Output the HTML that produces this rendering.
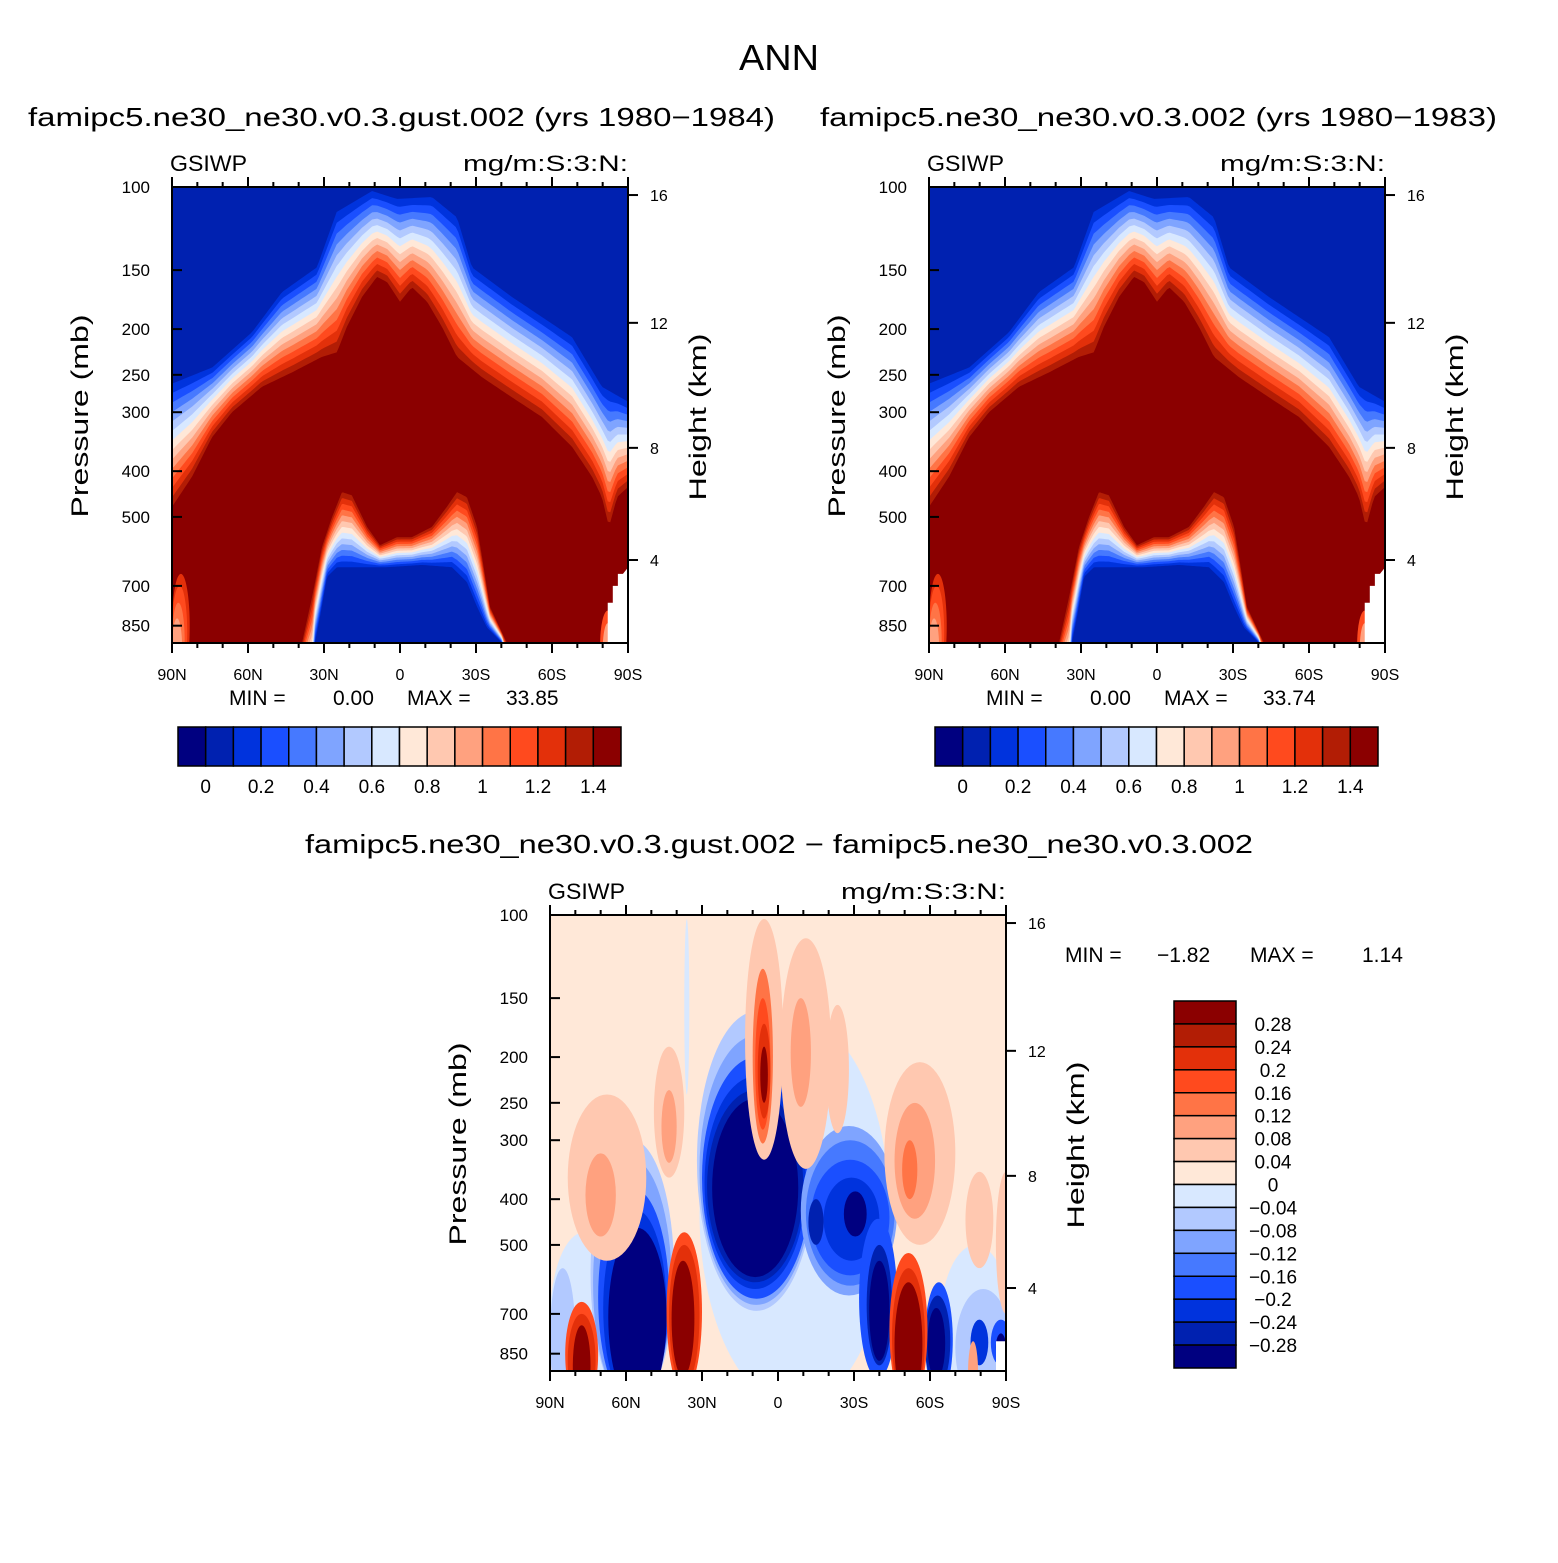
<!DOCTYPE html>
<html><head><meta charset="utf-8"><style>
body{margin:0;background:#fff}
svg text{font-family:"Liberation Sans",sans-serif;fill:#000}
</style></head><body>
<svg id="fig" width="1558" height="1558" viewBox="0 0 1558 1558" xmlns="http://www.w3.org/2000/svg">
<text x="779" y="70" font-size="36" text-anchor="middle" textLength="80" lengthAdjust="spacingAndGlyphs">ANN</text>
<text x="28" y="126" font-size="26" textLength="747" lengthAdjust="spacingAndGlyphs">famipc5.ne30_ne30.v0.3.gust.002 (yrs 1980−1984)</text>
<text x="820" y="126" font-size="26" textLength="677" lengthAdjust="spacingAndGlyphs">famipc5.ne30_ne30.v0.3.002 (yrs 1980−1983)</text>
<text x="305" y="853" font-size="26" textLength="948" lengthAdjust="spacingAndGlyphs">famipc5.ne30_ne30.v0.3.gust.002 − famipc5.ne30_ne30.v0.3.002</text>
<g id="layer"></g>
</svg>
<script>
// ---- data ----
const colors=["#000080","#0021b0","#0033dd","#1a4fff","#4679ff","#7fa4ff","#b2c9ff","#d8e8ff","#ffe8d8","#ffc8b0","#ffa17f","#ff7446","#ff4a1e","#e3300a","#b21d05","#8b0000"];
const topLevels=["0","0.2","0.4","0.6","0.8","1","1.2","1.4"];
const diffLevels=["0.28","0.24","0.2","0.16","0.12","0.08","0.04","0","−0.04","−0.08","−0.12","−0.16","−0.2","−0.24","−0.28"];
const pTicks=[100,150,200,250,300,400,500,700,850];
const hTicks=[16,12,8,4];
const hTickP=[104,194,357,617];
const latTicks=["90N","60N","30N","0","30S","60S","90S"];
// cloud top: outer edge (first non-background band) and dark-red edge
const outerLat=[90,74,58.4,46.6,32.8,25,11,1.2,-12.6,-22.5,-28.4,-44.2,-67.9,-79.7,-90];
const outerP=[261,241,203,167,148,113,102,106,105,116,148,171,208,265,285];
const redLat=[90,82.1,74.2,66.3,54.5,42.6,30.8,24.9,21,15,9.1,5.1,0,-4.7,-10.7,-16.6,-22.5,-32.4,-44.2,-56,-67.9,-75.8,-79.7,-82.5,-85.7,-90];
const redP=[476,411,339,300,265,247,229,224,198,171,155,159,175,163,175,198,229,253,279,307,355,411,454,525,454,432];
// lower tropical hole
const holeOutLat=[40.7,38.7,34.7,30.8,26.8,22.9,19,13,7.9,1.2,-4.7,-12.6,-18.5,-22.5,-26.4,-30.4,-32.4,-35.5,-42.2,-44.2];
const holeOutP=[1200,925,739,579,500,443,450,525,574,552,552,525,476,443,454,525,608,775,925,1200];
const holeInLat=[40.7,34.7,33.6,31.6,28.8,24.9,5.1,-8.7,-20.5,-26.4,-30.4,-34.3,-40.3,-44.2];
const holeInP=[1200,1200,925,815,670,639,639,632,639,687,775,857,925,1200];
// extra blobs in top panels [lat1,lat2,pTop,pBot,colorIdx]
const topBlobs=[[90,83,660,1100,13],[90,84,700,1100,12],[90,85,760,1100,11],[90,86,820,1100,10],[-79,-85,790,1100,12],[-80,-84,840,1100,10]];
const topMin=["0.00","0.00"], topMax=["33.85","33.74"];
// difference field blobs [lat1,lat2,pTop,pBot,colorIdx]
const diffBlobs=[
[31,-44,165,1100,7],[90,63,470,1100,7],[90,80,560,1100,6],[-64,-92,500,1100,7],[-70,-92,620,1100,6],
[37,35,102,240,7],
[74,41,300,1100,6],[73,42,330,1100,5],[71,43,380,1100,3],[69,44,420,1100,2],[67,44,460,1100,0],
[32,-15,160,690,6],[31,-14,180,670,5],[30,-13,200,650,3],[29,-11,220,620,2],[28,-10,235,600,1],[26,-8,245,585,0],
[-9,-47,280,640,5],[-11,-46,300,610,4],[-13,-44,330,580,3],[-18,-40,360,540,2],[-26,-35,385,480,0],[-12,-18,400,500,1],
[-32,-47,440,960,3],[-35,-45,500,900,1],[-36,-44,540,880,0],
[-58,-69,600,1050,3],[-58,-68,640,1000,1],[-59,-66,680,960,0],[-76,-83,720,900,2],[-84,-92,720,900,3],[-86,-90,770,880,0],
[83,52,240,540,9],[76,64,320,480,10],[49,37,190,360,9],[46,40,235,335,10],[63,58,270,370,9],
[13,-2,102,330,9],[10,2,130,305,11],[9,3,150,285,12],[8,3,170,270,13],[7,4,190,250,15],
[-1,-21,112,345,9],[-5,-13,150,255,10],[-19,-28,155,290,9],
[-42,-70,205,500,9],[-46,-62,250,440,10],[-49,-55,300,400,11],[-74,-85,350,560,9],[-86,-94,350,700,9],
[44,30,470,1020,12],[43,31,500,990,13],[42,33,540,950,15],
[84,71,660,1100,12],[83,72,700,1100,13],[81,74,740,1100,15],
[-44,-59,520,1100,12],[-45,-58,560,1100,13],[-46,-57,600,1100,15],[-75,-79,800,1100,10]];
const diffMin="−1.82", diffMax="1.14";
// ---- drawing ----
const NS="http://www.w3.org/2000/svg";
const layer=document.getElementById('layer');
function mk(tag,attrs,parent){const e=document.createElementNS(NS,tag);for(const k in attrs)e.setAttribute(k,attrs[k]);(parent||layer).appendChild(e);return e;}
const W=456,H=456;
function xL(ox,lat){return ox+(90-lat)/180*W;}
function yP(oy,p){return oy+472*Math.log10(p/100);}
function interp(la,pa,lat){
  if(lat>=la[0])return Math.log10(pa[0]);
  for(let i=0;i<la.length-1;i++){if(lat<=la[i]&&lat>=la[i+1]){const t=(la[i]-lat)/(la[i]-la[i+1]);return Math.log10(pa[i])*(1-t)+Math.log10(pa[i+1])*t;}}
  return Math.log10(pa[pa.length-1]);
}
let clipN=0;
function blob(g,ox,oy,b){
  const x1=xL(ox,b[0]),x2=xL(ox,b[1]),y1=yP(oy,b[2]),y2=yP(oy,b[3]);
  const e=mk('ellipse',{cx:(x1+x2)/2,cy:(y1+y2)/2,rx:Math.abs(x2-x1)/2,ry:Math.abs(y2-y1)/2,fill:colors[b[4]]},g);
  
  
}
function axes(ox,oy,name){
  const g=mk('g',{});
  
  
  mk('rect',{x:ox,y:oy,width:W,height:H,fill:'none',stroke:'#000','stroke-width':2},g);
  pTicks.forEach(p=>{const y=yP(oy,p);mk('line',{x1:ox,y1:y,x2:ox+10,y2:y,stroke:'#000','stroke-width':2},g);
    const t=mk('text',{x:ox-22,y:y+6,'font-size':17,'text-anchor':'end'},g);t.textContent=p;
    
    });
  hTicks.forEach((h,i)=>{const y=yP(oy,hTickP[i]);mk('line',{x1:ox+W,y1:y,x2:ox+W+10,y2:y,stroke:'#000','stroke-width':2},g);
    const t=mk('text',{x:ox+W+22,y:y+6,'font-size':16},g);t.textContent=h;
    
    });
  for(let d=0;d<=18;d++){const x=ox+d*W/18;const maj=d%3==0;
    mk('line',{x1:x,y1:oy+H,x2:x,y2:oy+H+(maj?10:5),stroke:'#000','stroke-width':2},g);
    mk('line',{x1:x,y1:oy,x2:x,y2:oy-(maj?10:5),stroke:'#000','stroke-width':2},g);
    if(maj){const t=mk('text',{x:x,y:oy+H+37,'font-size':16,'text-anchor':'middle'},g);t.textContent=latTicks[d/3];
      
      }}
  let t=mk('text',{x:ox-2,y:oy-16,'font-size':22,textLength:77,lengthAdjust:'spacingAndGlyphs'},g);t.textContent='GSIWP';
  
  t=mk('text',{x:ox+W-165,y:oy-16,'font-size':22,textLength:165,lengthAdjust:'spacingAndGlyphs'},g);t.textContent='mg/m:S:3:N:';
  
  t=mk('text',{x:0,y:0,'font-size':24,'text-anchor':'middle',textLength:203,lengthAdjust:'spacingAndGlyphs',transform:`translate(${ox-84},${oy+229}) rotate(-90)`},g);t.textContent='Pressure  (mb)';
  
  t=mk('text',{x:0,y:0,'font-size':24,'text-anchor':'middle',textLength:167,lengthAdjust:'spacingAndGlyphs',transform:`translate(${ox+W+78},${oy+230}) rotate(-90)`},g);t.textContent='Height  (km)';
  
}
function clipGroup(ox,oy,name){
  const id='c'+(clipN++);
  const cp=mk('clipPath',{id:id});mk('rect',{x:ox,y:oy,width:W,height:H},cp);
  const g=mk('g',{'clip-path':`url(#${id})`});
  
  
  return g;
}
function topPanel(ox,oy,idx){
  const g=clipGroup(ox,oy,'contour-plot-'+(idx?'right':'left'));
  mk('rect',{x:ox,y:oy,width:W,height:H,fill:colors[1]},g);
  const lats=[];for(let l=90;l>=-90;l-=1)lats.push(l);
  const N=14;
  for(let k=0;k<N;k++){
    const t=Math.pow(k/(N-1),1.0);
    let pts=lats.map(l=>{const lp=interp(outerLat,outerP,l)*(1-t)+interp(redLat,redP,l)*t;return xL(ox,l)+','+yP(oy,Math.pow(10,lp));});
    pts.push(xL(ox,-90)+','+(oy+H+50),xL(ox,90)+','+(oy+H+50));
    const e=mk('polygon',{points:pts.join(' '),fill:colors[k+2]},g);
    
    
  }
  const hl=[];for(let l=42;l>=-46;l-=0.5)hl.push(l);
  for(let j=0;j<N;j++){
    const t=j/(N-1);
    let pts=hl.map(l=>{const lp=interp(holeOutLat,holeOutP,l)*(1-t)+interp(holeInLat,holeInP,l)*t;return xL(ox,l)+','+yP(oy,Math.pow(10,lp));});
    pts.push(xL(ox,-46)+','+(oy+H+80),xL(ox,42)+','+(oy+H+80));
    const e=mk('polygon',{points:pts.join(' '),fill:colors[14-j]},g);
    
    
  }
  topBlobs.forEach(b=>blob(g,ox,oy,b));
  const m=mk('polygon',{points:`${xL(ox,-88)},${yP(oy,660)} ${xL(ox,-86)},${yP(oy,660)} ${xL(ox,-86)},${yP(oy,700)} ${xL(ox,-84)},${yP(oy,700)} ${xL(ox,-84)},${yP(oy,760)} ${xL(ox,-82)},${yP(oy,760)} ${xL(ox,-82)},${oy+H} ${ox+W},${oy+H} ${ox+W},${yP(oy,640)}`,fill:'#fff'},g);
  
  
  axes(ox,oy,idx?'right-panel':'left-panel');
  const mm=mk('g',{});
  
  
  [['MIN  =',ox+57],[topMin[idx],ox+161],['MAX  =',ox+235],[topMax[idx],ox+334]].forEach(a=>{const t=mk('text',{x:a[1],y:oy+518,'font-size':21},mm);t.textContent=a[0];});
  const cb=mk('g',{});
  
  
  const bx=ox+6,by=oy+540,bw=443/16;
  colors.forEach((c,i)=>{const r=mk('rect',{x:bx+i*bw,y:by,width:bw,height:39,fill:c,stroke:'#000','stroke-width':1.5},cb);
    });
  topLevels.forEach((s,i)=>{const t=mk('text',{x:bx+(1+2*i)*bw,y:by+66,'font-size':19,'text-anchor':'middle'},cb);t.textContent=s;
    });
}
topPanel(172,187,0);
topPanel(929,187,1);
(function(){
  const ox=550,oy=915;
  const g=clipGroup(ox,oy,'difference-plot');
  mk('rect',{x:ox,y:oy,width:W,height:H,fill:colors[8]},g);
  diffBlobs.forEach(b=>blob(g,ox,oy,b));
  mk('rect',{x:ox+446,y:yP(oy,800),width:12,height:200,fill:'#fff'},g);
  axes(ox,oy,'difference-panel');
  const mm=mk('g',{});
  
  
  [['MIN  =',1065],[diffMin,1157],['MAX  =',1250],[diffMax,1362]].forEach(a=>{const t=mk('text',{x:a[1],y:962,'font-size':21},mm);t.textContent=a[0];});
  const cb=mk('g',{});
  
  
  const bx=1174,by=1001,bh=367/16;
  for(let i=0;i<16;i++){const r=mk('rect',{x:bx,y:by+i*bh,width:62,height:bh,fill:colors[15-i],stroke:'#000','stroke-width':1.5},cb);
    }
  diffLevels.forEach((s,i)=>{const t=mk('text',{x:1273,y:by+(i+1)*bh+7,'font-size':19,'text-anchor':'middle'},cb);t.textContent=s;
    });
})();
</script>
</body></html>
